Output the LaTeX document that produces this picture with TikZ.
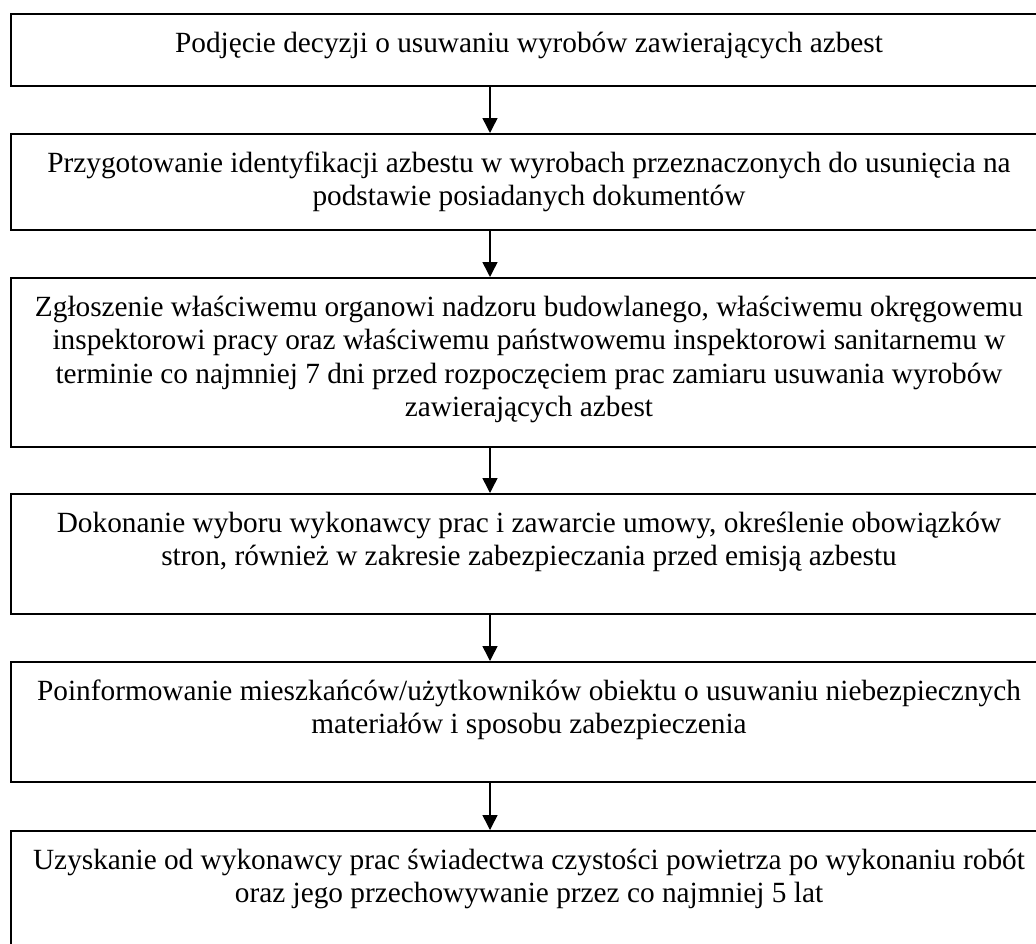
\documentclass[tikz,border=0pt]{standalone}
\usepackage{fontspec}
\setmainfont{Liberation Serif}
\usetikzlibrary{arrows.meta}
\begin{document}
\begin{tikzpicture}[x=1pt,y=-1pt,
  boxstyle/.style={draw=black, line width=1.8pt, rectangle, inner sep=0pt, minimum width=1038pt, anchor=north west},
  txt/.style={inner sep=0pt, anchor=base, font=\fontsize{29.3}{33.5}\selectfont},
  arr/.style={draw=black, line width=1.5pt, -{Triangle[width=15pt,length=15pt]}}]
\useasboundingbox (0,0) rectangle (1036,943);
\begin{scope}
\clip (0,0) rectangle (1036,943);
\node[boxstyle, minimum height=72pt]  (b1) at (10,13)  {};
\node[boxstyle, minimum height=96pt]  (b2) at (10,133) {};
\node[boxstyle, minimum height=169pt] (b3) at (10,277) {};
\node[boxstyle, minimum height=120pt] (b4) at (10,493) {};
\node[boxstyle, minimum height=120pt] (b5) at (10,661) {};
\node[boxstyle, minimum height=215pt] (b6) at (10,830) {};

\node[txt] (t1) at (529,52) {Podjęcie decyzji o usuwaniu wyrobów zawierających azbest};
\node[txt] (t2) at (529,172) {\begin{tabular}[t]{@{}c@{}}Przygotowanie identyfikacji azbestu w wyrobach przeznaczonych do usunięcia na\\ podstawie posiadanych dokumentów\end{tabular}};
\node[txt] (t3) at (529,316) {\begin{tabular}[t]{@{}c@{}}Zgłoszenie właściwemu organowi nadzoru budowlanego, właściwemu okręgowemu\\ inspektorowi pracy oraz właściwemu państwowemu inspektorowi sanitarnemu w\\ terminie co najmniej 7 dni przed rozpoczęciem prac zamiaru usuwania wyrobów\\ zawierających azbest\end{tabular}};
\node[txt] (t4) at (529,532) {\begin{tabular}[t]{@{}c@{}}Dokonanie wyboru wykonawcy prac i zawarcie umowy, określenie obowiązków\\ stron, również w zakresie zabezpieczania przed emisją azbestu\end{tabular}};
\node[txt] (t5) at (529,700) {\begin{tabular}[t]{@{}c@{}}Poinformowanie mieszkańców/użytkowników obiektu o usuwaniu niebezpiecznych\\ materiałów i sposobu zabezpieczenia\end{tabular}};
\node[txt] (t6) at (529,869) {\begin{tabular}[t]{@{}c@{}}Uzyskanie od wykonawcy prac świadectwa czystości powietrza po wykonaniu robót\\ oraz jego przechowywanie przez co najmniej 5 lat\end{tabular}};

\coordinate (ax) at (490,0);
\draw[arr] (b1.south -| ax) -- (b2.north -| ax);
\draw[arr] (b2.south -| ax) -- (b3.north -| ax);
\draw[arr] (b3.south -| ax) -- (b4.north -| ax);
\draw[arr] (b4.south -| ax) -- (b5.north -| ax);
\draw[arr] (b5.south -| ax) -- (b6.north -| ax);
\end{scope}
\end{tikzpicture}
\end{document}
